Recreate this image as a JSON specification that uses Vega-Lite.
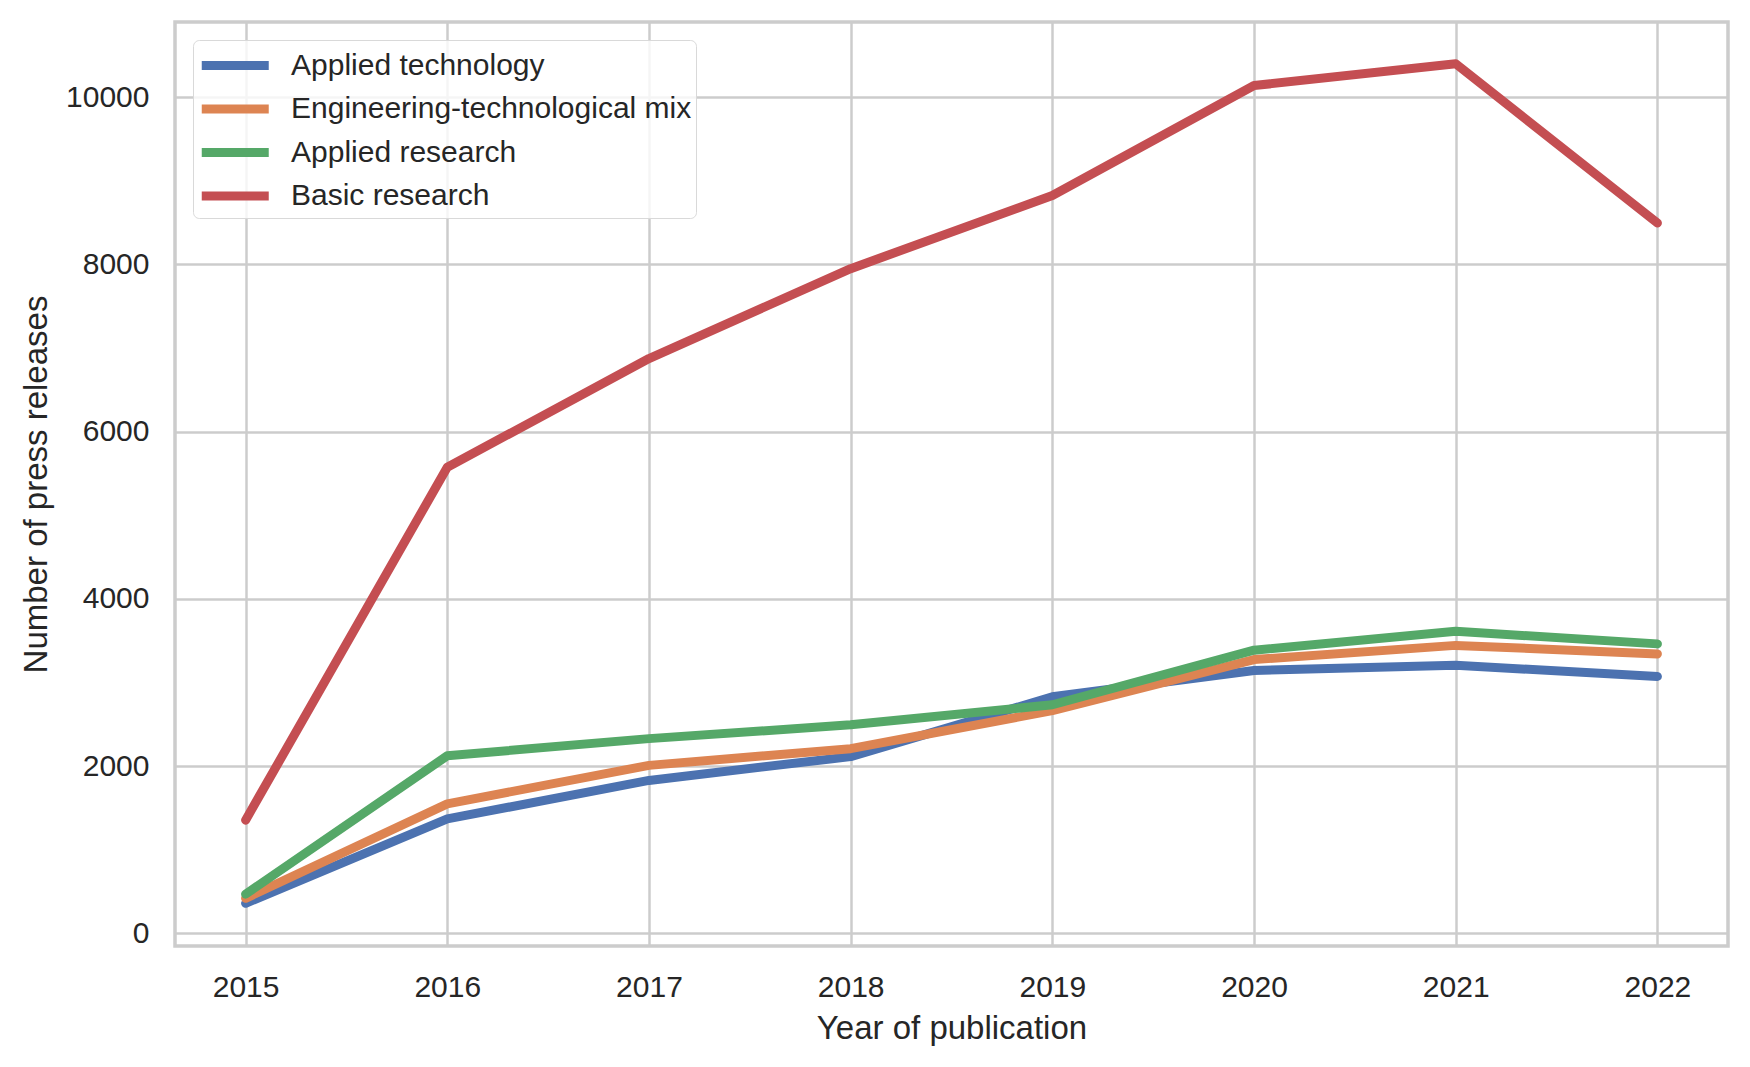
{
  "$schema": "https://vega.github.io/schema/vega-lite/v6.json",
  "width": 1553,
  "height": 924,
  "autosize": {"type": "none"},
  "padding": {"left": 175, "top": 22, "right": 22, "bottom": 121},
  "background": "white",
  "config": {
    "font": "Liberation Sans",
    "view": {"stroke": "#cccccc", "strokeWidth": 3.5},
    "axis": {
      "domain": false,
      "ticks": false,
      "grid": true,
      "gridColor": "#cccccc",
      "gridWidth": 2.5,
      "labelFont": "Liberation Sans",
      "labelFontSize": 30,
      "labelColor": "#262626",
      "titleFont": "Liberation Sans",
      "titleFontSize": 33,
      "titleFontWeight": "normal",
      "titleColor": "#262626"
    }
  },
  "data": {
    "values": [
      {"year": 2015, "category": "Applied technology", "count": 360},
      {"year": 2016, "category": "Applied technology", "count": 1370},
      {"year": 2017, "category": "Applied technology", "count": 1830},
      {"year": 2018, "category": "Applied technology", "count": 2115},
      {"year": 2019, "category": "Applied technology", "count": 2830},
      {"year": 2020, "category": "Applied technology", "count": 3145},
      {"year": 2021, "category": "Applied technology", "count": 3208},
      {"year": 2022, "category": "Applied technology", "count": 3073},
      {"year": 2015, "category": "Engineering-technological mix", "count": 420},
      {"year": 2016, "category": "Engineering-technological mix", "count": 1550},
      {"year": 2017, "category": "Engineering-technological mix", "count": 2010},
      {"year": 2018, "category": "Engineering-technological mix", "count": 2210},
      {"year": 2019, "category": "Engineering-technological mix", "count": 2665},
      {"year": 2020, "category": "Engineering-technological mix", "count": 3275},
      {"year": 2021, "category": "Engineering-technological mix", "count": 3445},
      {"year": 2022, "category": "Engineering-technological mix", "count": 3343},
      {"year": 2015, "category": "Applied research", "count": 470},
      {"year": 2016, "category": "Applied research", "count": 2125},
      {"year": 2017, "category": "Applied research", "count": 2330},
      {"year": 2018, "category": "Applied research", "count": 2495},
      {"year": 2019, "category": "Applied research", "count": 2735},
      {"year": 2020, "category": "Applied research", "count": 3388},
      {"year": 2021, "category": "Applied research", "count": 3613},
      {"year": 2022, "category": "Applied research", "count": 3463},
      {"year": 2015, "category": "Basic research", "count": 1355},
      {"year": 2016, "category": "Basic research", "count": 5575},
      {"year": 2017, "category": "Basic research", "count": 6875},
      {"year": 2018, "category": "Basic research", "count": 7950},
      {"year": 2019, "category": "Basic research", "count": 8825},
      {"year": 2020, "category": "Basic research", "count": 10140},
      {"year": 2021, "category": "Basic research", "count": 10400},
      {"year": 2022, "category": "Basic research", "count": 8496}
    ]
  },
  "mark": {"type": "line", "strokeWidth": 9, "strokeCap": "round", "strokeJoin": "round"},
  "encoding": {
    "x": {
      "field": "year",
      "type": "quantitative",
      "scale": {"domain": [2014.65, 2022.35], "nice": false, "zero": false},
      "axis": {
        "values": [2015, 2016, 2017, 2018, 2019, 2020, 2021, 2022],
        "format": "d",
        "labelPadding": 26,
        "title": "Year of publication",
        "titleY": 82,
        "titleBaseline": "middle"
      }
    },
    "y": {
      "field": "count",
      "type": "quantitative",
      "scale": {"domain": [-150, 10900], "nice": false, "zero": false},
      "axis": {
        "values": [0, 2000, 4000, 6000, 8000, 10000],
        "format": "d",
        "labelPadding": 26,
        "title": "Number of press releases",
        "titleX": -139,
        "titleY": 462,
        "titleAngle": -90,
        "titleBaseline": "middle",
        "titleAlign": "center"
      }
    },
    "color": {
      "field": "category",
      "type": "nominal",
      "scale": {
        "domain": ["Applied technology", "Engineering-technological mix", "Applied research", "Basic research"],
        "range": ["#4C72B0", "#DD8452", "#55A868", "#C44E52"]
      },
      "legend": {
        "title": null,
        "orient": "none",
        "legendX": 18,
        "legendY": 18,
        "symbolType": "M-1,0H3",
        "symbolSize": 1122,
        "symbolStrokeWidth": 9,
        "labelFontSize": 30,
        "labelFont": "Liberation Sans",
        "labelColor": "#262626",
        "labelLimit": 600,
        "labelOffset": 51,
        "rowPadding": 3.5,
        "padding": 4,
        "fillColor": "rgba(255,255,255,0.8)",
        "strokeColor": "#d9d9d9",
        "cornerRadius": 6
      }
    }
  }
}
